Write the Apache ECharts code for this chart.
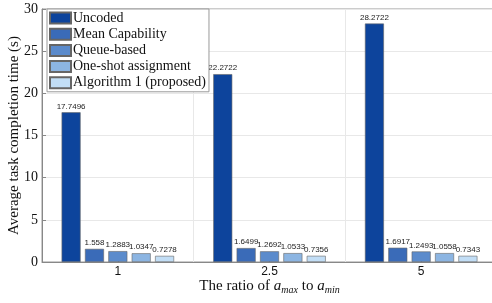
<!DOCTYPE html>
<html>
<head>
<meta charset="utf-8">
<script src="https://cdn.jsdelivr.net/npm/echarts@6/dist/echarts.min.js"></script>
<style>
  html, body { margin: 0; padding: 0; background: #fff; }
  #chart { width: 492px; height: 303px; }
</style>
</head>
<body>
<div id="chart"></div>
<script>
// categories (ratio of a_max to a_min)
const ratios = ['1', '2.5', '5'];
const seriesNames = ['Uncoded', 'Mean Capability', 'Queue-based', 'One-shot assignment', 'Algorithm 1 (proposed)'];
const uncoded = [17.7496, 22.2722, 28.2722];
const meanCapability = [1.558, 1.6499, 1.6917];
const queueBased = [1.2883, 1.2692, 1.2493];
const oneShot = [1.0347, 1.0533, 1.0558];
const algorithm1 = [0.7278, 0.7356, 0.7343];
const yTicks = [0, 5, 10, 15, 20, 25, 30];

const colors = ['#0d449c', '#3a6bb8', '#5b8bcc', '#8cb5e2', '#c2def6'];
const values = [uncoded, meanCapability, queueBased, oneShot, algorithm1];

let myChart = echarts.init(document.getElementById('chart'));
let option = {
  animation: false,
  color: colors,
  grid: {
    left: 42,
    right: -5,
    top: 9,
    bottom: 41,
    outerBoundsMode: 'none',
    containLabel: false,
    show: true,
    borderColor: '#999',
    borderWidth: 1
  },
  legend: {
    left: 47,
    top: 9,
    orient: 'vertical',
    icon: 'rect',
    itemWidth: 21,
    itemHeight: 11,
    itemGap: 2.2,
    padding: [2, 3, 2, 2],
    backgroundColor: '#fff',
    borderColor: '#999',
    borderWidth: 1,
    textStyle: {
      fontFamily: 'Liberation Serif',
      fontSize: 14,
      color: '#111',
      padding: [0, 0, 0, -3],
      lineHeight: 14
    },
    data: seriesNames
  },
  xAxis: {
    type: 'category',
    data: ratios,
    name: '{t|The ratio of }{i|a}{s|max}{t| to }{i|a}{s|min}',
    nameLocation: 'middle',
    nameGap: 15,
    nameMoveOverlap: false,
    nameTextStyle: {
      rich: {
        t: { fontFamily: 'Liberation Serif', fontSize: 15, color: '#111' },
        i: { fontFamily: 'Liberation Serif', fontSize: 15, fontStyle: 'italic', color: '#111' },
        s: { fontFamily: 'Liberation Serif', fontSize: 10, fontStyle: 'italic', color: '#111', padding: [8, 0, 0, 0] }
      }
    },
    axisLine: { lineStyle: { color: '#888' } },
    axisTick: { show: true, alignWithLabel: true, inside: true, length: 4, lineStyle: { color: '#888' } },
    axisLabel: { fontFamily: 'Liberation Sans', fontSize: 12, color: '#111', margin: 4 },
    splitLine: { show: true, lineStyle: { color: '#e8e8e8' } }
  },
  yAxis: {
    type: 'value',
    min: yTicks[0],
    max: yTicks[yTicks.length - 1],
    interval: 5,
    name: 'Average task completion time (s)',
    nameLocation: 'middle',
    nameGap: 20,
    nameMoveOverlap: false,
    nameTextStyle: { fontFamily: 'Liberation Serif', fontSize: 15, color: '#111' },
    axisLine: { show: true, lineStyle: { color: '#888' } },
    axisTick: { show: true, inside: true, length: 4, lineStyle: { color: '#888' } },
    axisLabel: { fontFamily: 'Liberation Serif', fontSize: 14, color: '#111', margin: 4 },
    splitLine: { lineStyle: { color: '#e8e8e8' } }
  },
  series: seriesNames.map(function (name, i) {
    return {
      name: name,
      type: 'bar',
      data: values[i],
      barWidth: 19,
      barGap: '23%',
      itemStyle: { borderColor: '#666', borderWidth: 0.6 },
      label: {
        show: true,
        position: 'top',
        distance: 2,
        fontFamily: 'Liberation Sans',
        fontSize: 8,
        color: '#222'
      }
    };
  })
};
myChart.setOption(option);
</script>
</body>
</html>
